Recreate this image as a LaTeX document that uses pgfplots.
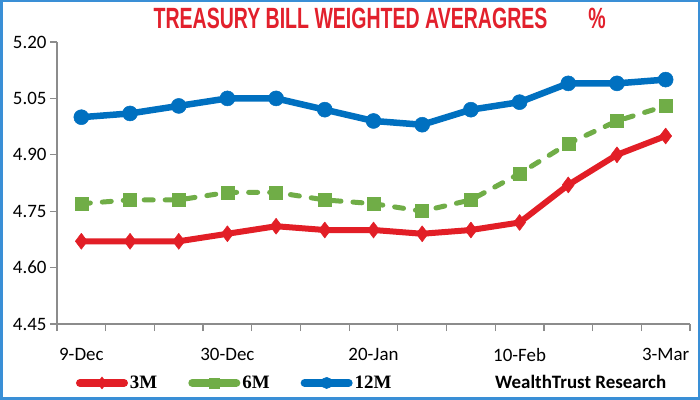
\documentclass[border=0pt]{standalone}
\usepackage{fontspec}
\setmainfont{Carlito}
\newfontfamily\titlefont{Liberation Sans}
\newfontfamily\legfont{Liberation Serif}
\usepackage{graphicx}
\usepackage{pgfplots}
\usepackage{pgfplotstable}
\pgfplotsset{compat=1.18}
\definecolor{tred}{HTML}{E21E26}
\definecolor{tgreen}{HTML}{70AD47}
\definecolor{tblue}{HTML}{0070C0}
\definecolor{framecol}{HTML}{3A8FD6}
\definecolor{titlered}{HTML}{E2202C}
\definecolor{axgray}{HTML}{8C8C8C}

\pgfplotstableread{
x m3 m6 m12
0 4.67 4.77 5.00
1 4.67 4.78 5.01
2 4.67 4.78 5.03
3 4.69 4.80 5.05
4 4.71 4.80 5.05
5 4.70 4.78 5.02
6 4.70 4.77 4.99
7 4.69 4.75 4.98
8 4.70 4.78 5.02
9 4.72 4.85 5.04
10 4.82 4.93 5.09
11 4.90 4.99 5.09
12 4.95 5.03 5.10
}\tbdata

\begin{document}
\begin{tikzpicture}
\path[use as bounding box] (0,0) rectangle (700bp,400bp);
\fill[white] (0,0) rectangle (700bp,400bp);
\draw[framecol, line width=2.5bp] (1.25bp,1.25bp) rectangle (698.75bp,398.75bp);
\node[anchor=base, text=titlered, inner sep=0] at (350.5bp,371bp) {\scalebox{0.70}[1.05]{\titlefont\bfseries\fontsize{28}{28}\selectfont TREASURY BILL WEIGHTED AVERAGRES}};
\node[anchor=base, text=titlered, inner sep=0] at (597bp,371bp) {\scalebox{0.70}[1.05]{\titlefont\bfseries\fontsize{28}{28}\selectfont \%}};
\node[anchor=base west, inner sep=0] at (495bp,12bp) {\bfseries\fontsize{19}{19}\selectfont WealthTrust Research};
\begin{axis}[
  at={(57bp,76bp)}, anchor=south west, scale only axis, width=633bp, height=282bp,
  xmin=-0.5, xmax=12.5, ymin=4.45, ymax=5.20,
  axis x line*=bottom, axis y line*=left,
  axis line style={-, draw=axgray, line width=1.2bp},
  xtick={-0.5,0.5,...,12.5}, xticklabels={},
  extra x ticks={0,3,6,9,12}, extra x tick labels={9-Dec,30-Dec,20-Jan,10-Feb,3-Mar},
  extra x tick style={major tick length=0pt},
  ytick={4.45,4.60,4.75,4.90,5.05,5.20},
  y tick label style={/pgf/number format/.cd, fixed, fixed zerofill, precision=2, /tikz/.cd},
  tick align=outside, major tick length=7bp,
  tick style={draw=axgray, line width=1.2bp},
  ticklabel style={font=\fontsize{19}{19}\selectfont},
  x tick label style={yshift=-21bp},
  /pgf/number format/assume math mode=true,
  clip=false,
  legend columns=3,
  legend style={at={(axis description cs:0.0300,-0.2090)}, anchor=west, draw=none, fill=none,
    inner sep=0pt, outer sep=0pt, nodes={inner sep=0pt},
    font=\legfont\bfseries\fontsize{19}{19}\selectfont,
    /tikz/every odd column/.append style={column sep=2bp},
    /tikz/every even column/.append style={column sep=31bp}},
  legend image code/.code={\draw[mark repeat=2,mark phase=2,#1,solid,line width=8bp,line cap=round,every mark/.append style={scale=0.75}] plot coordinates {(4bp,0bp)(26bp,0bp)(48bp,0bp)};},
]
\addplot[tred, line width=6bp, line join=round, mark=diamond*, mark size=8bp,
  mark options={solid, fill=tred, draw=tred, line width=0.5bp}] table[x=x,y=m3] {\tbdata};
\addlegendentry{3M}
\addplot[tgreen, line width=5bp, line cap=round, dash pattern=on 9bp off 12bp, mark=square*, mark size=6.5bp,
  mark options={solid, fill=tgreen, draw=tgreen, line width=0.5bp}] table[x=x,y=m6] {\tbdata};
\addlegendentry{6M}
\addplot[tblue, line width=6.5bp, line join=round, mark=*, mark size=7.5bp,
  mark options={solid, fill=tblue, draw=tblue, line width=0.5bp}] table[x=x,y=m12] {\tbdata};
\addlegendentry{12M}
\end{axis}
\end{tikzpicture}
\end{document}
